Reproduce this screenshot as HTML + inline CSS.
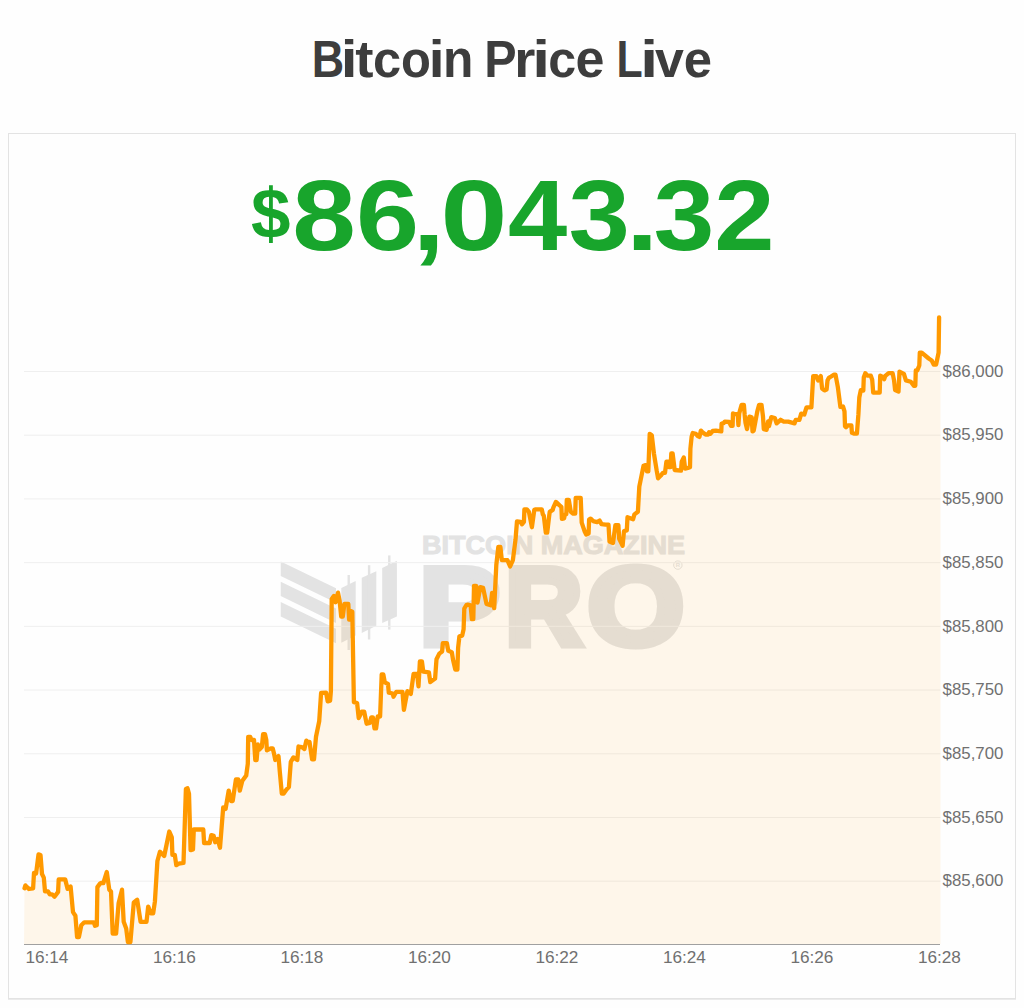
<!DOCTYPE html>
<html><head><meta charset="utf-8">
<style>
html,body{margin:0;padding:0;background:#fefefe;}
body{width:1024px;height:1008px;overflow:hidden;position:relative;font-family:"Liberation Sans",sans-serif;}
.title{position:absolute;left:0;top:0;width:1024px;text-align:center;font-weight:bold;color:#3d3d3d;font-size:52px;line-height:1;}
.card{position:absolute;left:8px;top:133px;width:1006px;height:864px;border:1px solid #e3e3e3;background:#fefefe;box-shadow:0 1px 0 #ebebeb;}
.price{position:absolute;left:0;top:0;white-space:nowrap;color:#18a52c;font-weight:bold;}
svg{position:absolute;left:0;top:0;}
</style></head>
<body>
<div class="card"></div>
<svg width="1024" height="1008" viewBox="0 0 1024 1008">
  <g id="wm" fill="#e3e3e3">
    <polygon points="280.75,561.4 336,588.2 336,602.8 280.75,576"/>
    <polygon points="280.75,581.7 336,608.5 336,623 280.75,596.1"/>
    <polygon points="280.75,602 336,628.8 336,643.2 280.75,616.4"/>
    <polygon points="341.3,588.1 355.7,581 355.7,635.6 341.3,642.7"/>
    <rect x="347.5" y="575" width="2.4" height="75"/>
    <polygon points="361.75,577.8 376.3,571.2 376.3,625.8 361.75,632.9"/>
    <rect x="367.9" y="565.2" width="2.4" height="74.3"/>
    <polygon points="382.2,567.9 396.9,560.8 396.9,616.5 382.2,623.1"/>
    <rect x="388.1" y="555.4" width="2.4" height="74.2"/>
    <text x="422" y="554" font-size="25" font-weight="bold" textLength="263" lengthAdjust="spacingAndGlyphs" stroke="#e3e3e3" stroke-width="1" style="font-family:'Liberation Sans',sans-serif">BITCOIN MAGAZINE</text>
    <text x="388.31" y="644.6" transform="scale(1.0800,1)" font-size="112" font-weight="bold" stroke="#e3e3e3" stroke-width="7" stroke-linejoin="miter" stroke-miterlimit="3" style="font-family:'Liberation Sans',sans-serif">P</text><text x="525.21" y="644.6" transform="scale(0.9613,1)" font-size="112" font-weight="bold" stroke="#e3e3e3" stroke-width="7" stroke-linejoin="miter" stroke-miterlimit="3" style="font-family:'Liberation Sans',sans-serif">R</text><text x="526.02" y="644.6" transform="scale(1.1165,1)" font-size="112" font-weight="bold" stroke="#e3e3e3" stroke-width="7" stroke-linejoin="miter" stroke-miterlimit="3" style="font-family:'Liberation Sans',sans-serif">O</text>
    <circle cx="677.85" cy="565.1" r="4.2" fill="none" stroke="#e3e3e3" stroke-width="1"/><text x="677.85" y="567.4" font-size="6" font-weight="bold" text-anchor="middle" style="font-family:'Liberation Sans',sans-serif">R</text>
  </g>
  <g stroke="#efefef" stroke-width="1"><line x1="24" y1="371.50" x2="940.5" y2="371.50"/><line x1="24" y1="435.21" x2="940.5" y2="435.21"/><line x1="24" y1="498.92" x2="940.5" y2="498.92"/><line x1="24" y1="562.63" x2="940.5" y2="562.63"/><line x1="24" y1="626.34" x2="940.5" y2="626.34"/><line x1="24" y1="690.05" x2="940.5" y2="690.05"/><line x1="24" y1="753.76" x2="940.5" y2="753.76"/><line x1="24" y1="817.47" x2="940.5" y2="817.47"/><line x1="24" y1="881.18" x2="940.5" y2="881.18"/></g>
  <path d="M24 944 L24.5 888.3 L25.4 885.4 L28.9 889 L33.1 888.3 L34 872.9 L36.1 873.5 L38.5 854.4 L40.5 855 L42 874 L43.8 877.6 L45 891.3 L48 891.3 L49.8 894.3 L52.1 894.3 L54.5 896.7 L58.1 891.9 L58.7 879.4 L65.2 879.4 L67.6 888.9 L70.6 886.5 L73 912.1 L75.4 915.7 L77.1 937.1 L78.9 937.1 L81.3 925.2 L84.3 922.3 L93.8 922.3 L95 925.8 L96.8 925.2 L97.4 887.1 L100 883.6 L100.9 883 L103.4 883 L106.8 872 L109.3 889.7 L111 891.4 L112.7 933.6 L116.1 933.6 L118.6 903.2 L122 889.7 L123.7 921.8 L126.2 928.5 L127.9 942 L130.4 942 L133.8 902.4 L137.2 899.8 L140.6 921.8 L146.5 921.8 L148.2 906.6 L150.7 913.3 L153.2 913.3 L154.9 901.5 L157.4 861 L160 851.7 L164.2 856 L169.3 831.5 L171.8 837.4 L172.4 854.9 L174.8 854.9 L176.3 865.2 L178.7 863.7 L183.5 862.9 L185.9 789 L187.5 788.3 L189 793.8 L190.6 850.2 L193 849.4 L193.8 829.5 L203.3 829.5 L204.1 843 L209.7 843 L211.3 835.1 L213.7 835.9 L215.2 842.2 L217.6 839 L220 847.8 L223.2 807.3 L225.6 808.9 L228.7 790.6 L231.1 801 L232.7 801 L235.9 779.5 L238.3 779.5 L239.8 790.6 L242.2 781.1 L246.2 775.6 L247.8 763.7 L248.2 736.8 L250.2 736.8 L251.5 740 L254 740 L255.3 760 L256.6 760 L257.9 744.5 L259.2 749.7 L261.8 747.1 L263.1 734.2 L265 734.2 L266.3 740 L266.9 750.3 L270.8 748.4 L272.7 748.4 L274 753.5 L275.3 760 L278.5 756.1 L279.8 771.6 L281.8 793.5 L283.7 793.5 L286.3 789.7 L288.9 787.1 L290.8 761.9 L293.4 757.4 L297.3 760 L298.5 746.5 L301.8 747.1 L304.4 749 L306.3 740.6 L307.6 741.9 L309.5 741.9 L312.1 759.4 L314 759.4 L316 736.8 L319.2 721.3 L321.1 692.9 L326.1 692.7 L327.7 701.4 L330.1 700.6 L330.9 691.1 L331.7 599 L334 595.9 L335.6 602.2 L338 592.7 L339.6 600.6 L341.2 616.5 L342.8 616.5 L344.4 603.8 L348.3 603.8 L349.1 619.7 L350.7 611 L352.3 611.7 L353.9 702.2 L357.1 703 L358.7 718.1 L361.8 711.7 L364.2 711.7 L366.6 723.7 L369.8 722.9 L371.3 717.3 L372.9 717.3 L374.5 728.4 L376.1 728.4 L377.7 716.5 L380.1 716.5 L381.7 674.4 L383.3 674.4 L384.8 682.4 L388 684 L388.8 692.7 L392.8 693.5 L393.5 696.7 L396.3 691.8 L402.5 691.8 L403.9 709.9 L407.4 691.1 L410.8 693.9 L413.6 673.8 L417.1 673.8 L418.5 686.3 L419.9 661.3 L421.9 661.3 L423.3 671.7 L428.9 672.4 L430.3 682.1 L435.1 678.6 L436.5 659.2 L439.3 653.6 L442.1 651.5 L442.8 643.2 L446.9 643.2 L448.3 650.8 L451.8 652.2 L453.2 660.6 L455.3 669.6 L457.4 669.6 L458.1 648.1 L459.4 636.3 L462.2 635.6 L463.6 629.3 L464.3 608.5 L466.4 605 L467.8 604.6 L470.6 605.3 L471.9 619.2 L473.3 619.2 L474 585.8 L476.1 585.8 L477.5 602.5 L480.3 587.2 L483.1 587.9 L486.5 603.9 L490.7 605.3 L492.1 592.8 L494.2 608.1 L496.3 565 L498.3 546.9 L500.4 546.9 L501.8 560.1 L507.4 560.1 L510.1 566.4 L512.9 560.1 L515.5 539.6 L517 521.3 L520.5 521.8 L521.9 524.3 L523.9 521.8 L524.4 509.4 L526.9 509.4 L528.9 511.9 L531.9 527.2 L534.3 509.9 L535.8 509.4 L541.8 509.4 L542.8 514.3 L543.8 515.8 L545.8 532.7 L547.2 532.7 L549.2 515.8 L549.7 511.9 L552.7 509.9 L553.2 507.9 L555.9 501.9 L559.6 505.4 L561.4 506.9 L561.9 518.8 L564.1 518.3 L564.8 514.7 L566.3 514.2 L566.8 499.8 L568.8 499.8 L570.8 511.7 L573.3 513.7 L575.2 513.7 L575.7 497.8 L580.7 497.8 L581.7 522.6 L584.7 531.5 L586.2 534.5 L588.6 533.5 L589.1 519.6 L590.6 518.6 L593.1 521.1 L597.1 522.1 L599.6 520.6 L601.5 524.1 L605.5 524.6 L608.5 524.6 L609.5 541.5 L613 543 L615.4 525.1 L618.4 525.1 L619.2 538.8 L622.6 545.7 L624 531.1 L626.8 530.4 L627.5 517.2 L633.1 519.3 L634.4 514.4 L637.9 511.7 L639.3 486.7 L643.5 465.8 L645.6 465.1 L646.9 471.4 L648.3 471.4 L649.7 433.9 L651.8 435.3 L653.9 453.3 L656.7 470.7 L658.1 478.3 L660.8 475.6 L662.9 472.8 L665 472.8 L666.4 461.7 L668.5 461.7 L669.2 467.2 L670.6 467.2 L671.3 453.3 L672.6 453.3 L674.7 470 L681 470.7 L681.7 461.7 L683.8 457.5 L685.1 468.6 L687.9 467.9 L690 467.2 L690.4 448.6 L691.6 436.9 L692.7 433 L695.9 433.8 L697.8 436.1 L699.4 436.9 L700.9 430.6 L702.5 432.2 L705.6 434.5 L708 434.5 L709.1 432.2 L710.3 433.8 L712.7 431 L715.8 430.6 L721.3 431.4 L721.6 423.6 L723.6 423.2 L724.8 421.6 L729.1 422 L731 425.9 L732.6 425.9 L733 413.4 L734.9 414.2 L737.7 414.2 L738.4 425.2 L739.2 413.4 L741.6 404.8 L743.9 404.8 L744.7 415 L745.5 422.8 L747 429.1 L749.4 416.6 L751.7 417.3 L752.5 431.4 L753.7 430.6 L757.2 411.9 L759.1 404.8 L761.5 404.8 L763 416.6 L763.8 429.1 L766.6 429.8 L768.1 421.3 L769 426.1 L771.3 417.1 L774.8 418 L776.6 423.4 L780.6 419.8 L783.8 421.6 L788.2 421.6 L794.5 423.4 L795.8 419.8 L799.4 419.8 L801.2 413.6 L804.3 414.5 L806.5 407.3 L811.4 407.3 L813.2 376.1 L816.3 376.1 L818.1 380.5 L820.8 376.1 L822.1 388.6 L824.4 390.4 L826.6 389.5 L827.5 380.5 L828.8 377.9 L831.1 376.5 L833.8 374.7 L835.5 374.7 L837.8 386.8 L840.4 406.9 L843 406.5 L844.5 411.4 L845 426.3 L846 427.3 L847.9 425.3 L851.4 425.3 L851.9 432.8 L854.4 433.7 L856.9 433.7 L858.4 414.4 L859.3 397.5 L860.8 390.1 L863.3 390.6 L863.8 377.2 L865.3 373.2 L867.3 375.7 L870.8 375.7 L872.2 379.7 L873.2 392.6 L879.7 392.6 L880.2 375.7 L883.2 377.2 L884.1 379.2 L885.1 376.2 L888.6 373.2 L892.6 373.2 L894.1 380.7 L895.1 390.1 L898.5 391.6 L899.5 371.7 L903.9 373.9 L905.9 380.4 L910.8 381.8 L913.8 385.8 L915.3 385.8 L915.8 370.4 L917.3 370.4 L919.3 365.5 L919.8 352.6 L921.7 352.6 L928.7 358.5 L931.7 360.5 L933.7 364.5 L936.1 364.5 L938.6 352.6 L939.1 317.4 L940.5 317.4 L940.5 944 Z" fill="rgba(255,153,0,0.08)"/>
  <line x1="24" y1="944.5" x2="940" y2="944.5" stroke="#a0a0a0" stroke-width="1.2"/>
  <path d="M24.5 888.3 L25.4 885.4 L28.9 889 L33.1 888.3 L34 872.9 L36.1 873.5 L38.5 854.4 L40.5 855 L42 874 L43.8 877.6 L45 891.3 L48 891.3 L49.8 894.3 L52.1 894.3 L54.5 896.7 L58.1 891.9 L58.7 879.4 L65.2 879.4 L67.6 888.9 L70.6 886.5 L73 912.1 L75.4 915.7 L77.1 937.1 L78.9 937.1 L81.3 925.2 L84.3 922.3 L93.8 922.3 L95 925.8 L96.8 925.2 L97.4 887.1 L100 883.6 L100.9 883 L103.4 883 L106.8 872 L109.3 889.7 L111 891.4 L112.7 933.6 L116.1 933.6 L118.6 903.2 L122 889.7 L123.7 921.8 L126.2 928.5 L127.9 942 L130.4 942 L133.8 902.4 L137.2 899.8 L140.6 921.8 L146.5 921.8 L148.2 906.6 L150.7 913.3 L153.2 913.3 L154.9 901.5 L157.4 861 L160 851.7 L164.2 856 L169.3 831.5 L171.8 837.4 L172.4 854.9 L174.8 854.9 L176.3 865.2 L178.7 863.7 L183.5 862.9 L185.9 789 L187.5 788.3 L189 793.8 L190.6 850.2 L193 849.4 L193.8 829.5 L203.3 829.5 L204.1 843 L209.7 843 L211.3 835.1 L213.7 835.9 L215.2 842.2 L217.6 839 L220 847.8 L223.2 807.3 L225.6 808.9 L228.7 790.6 L231.1 801 L232.7 801 L235.9 779.5 L238.3 779.5 L239.8 790.6 L242.2 781.1 L246.2 775.6 L247.8 763.7 L248.2 736.8 L250.2 736.8 L251.5 740 L254 740 L255.3 760 L256.6 760 L257.9 744.5 L259.2 749.7 L261.8 747.1 L263.1 734.2 L265 734.2 L266.3 740 L266.9 750.3 L270.8 748.4 L272.7 748.4 L274 753.5 L275.3 760 L278.5 756.1 L279.8 771.6 L281.8 793.5 L283.7 793.5 L286.3 789.7 L288.9 787.1 L290.8 761.9 L293.4 757.4 L297.3 760 L298.5 746.5 L301.8 747.1 L304.4 749 L306.3 740.6 L307.6 741.9 L309.5 741.9 L312.1 759.4 L314 759.4 L316 736.8 L319.2 721.3 L321.1 692.9 L326.1 692.7 L327.7 701.4 L330.1 700.6 L330.9 691.1 L331.7 599 L334 595.9 L335.6 602.2 L338 592.7 L339.6 600.6 L341.2 616.5 L342.8 616.5 L344.4 603.8 L348.3 603.8 L349.1 619.7 L350.7 611 L352.3 611.7 L353.9 702.2 L357.1 703 L358.7 718.1 L361.8 711.7 L364.2 711.7 L366.6 723.7 L369.8 722.9 L371.3 717.3 L372.9 717.3 L374.5 728.4 L376.1 728.4 L377.7 716.5 L380.1 716.5 L381.7 674.4 L383.3 674.4 L384.8 682.4 L388 684 L388.8 692.7 L392.8 693.5 L393.5 696.7 L396.3 691.8 L402.5 691.8 L403.9 709.9 L407.4 691.1 L410.8 693.9 L413.6 673.8 L417.1 673.8 L418.5 686.3 L419.9 661.3 L421.9 661.3 L423.3 671.7 L428.9 672.4 L430.3 682.1 L435.1 678.6 L436.5 659.2 L439.3 653.6 L442.1 651.5 L442.8 643.2 L446.9 643.2 L448.3 650.8 L451.8 652.2 L453.2 660.6 L455.3 669.6 L457.4 669.6 L458.1 648.1 L459.4 636.3 L462.2 635.6 L463.6 629.3 L464.3 608.5 L466.4 605 L467.8 604.6 L470.6 605.3 L471.9 619.2 L473.3 619.2 L474 585.8 L476.1 585.8 L477.5 602.5 L480.3 587.2 L483.1 587.9 L486.5 603.9 L490.7 605.3 L492.1 592.8 L494.2 608.1 L496.3 565 L498.3 546.9 L500.4 546.9 L501.8 560.1 L507.4 560.1 L510.1 566.4 L512.9 560.1 L515.5 539.6 L517 521.3 L520.5 521.8 L521.9 524.3 L523.9 521.8 L524.4 509.4 L526.9 509.4 L528.9 511.9 L531.9 527.2 L534.3 509.9 L535.8 509.4 L541.8 509.4 L542.8 514.3 L543.8 515.8 L545.8 532.7 L547.2 532.7 L549.2 515.8 L549.7 511.9 L552.7 509.9 L553.2 507.9 L555.9 501.9 L559.6 505.4 L561.4 506.9 L561.9 518.8 L564.1 518.3 L564.8 514.7 L566.3 514.2 L566.8 499.8 L568.8 499.8 L570.8 511.7 L573.3 513.7 L575.2 513.7 L575.7 497.8 L580.7 497.8 L581.7 522.6 L584.7 531.5 L586.2 534.5 L588.6 533.5 L589.1 519.6 L590.6 518.6 L593.1 521.1 L597.1 522.1 L599.6 520.6 L601.5 524.1 L605.5 524.6 L608.5 524.6 L609.5 541.5 L613 543 L615.4 525.1 L618.4 525.1 L619.2 538.8 L622.6 545.7 L624 531.1 L626.8 530.4 L627.5 517.2 L633.1 519.3 L634.4 514.4 L637.9 511.7 L639.3 486.7 L643.5 465.8 L645.6 465.1 L646.9 471.4 L648.3 471.4 L649.7 433.9 L651.8 435.3 L653.9 453.3 L656.7 470.7 L658.1 478.3 L660.8 475.6 L662.9 472.8 L665 472.8 L666.4 461.7 L668.5 461.7 L669.2 467.2 L670.6 467.2 L671.3 453.3 L672.6 453.3 L674.7 470 L681 470.7 L681.7 461.7 L683.8 457.5 L685.1 468.6 L687.9 467.9 L690 467.2 L690.4 448.6 L691.6 436.9 L692.7 433 L695.9 433.8 L697.8 436.1 L699.4 436.9 L700.9 430.6 L702.5 432.2 L705.6 434.5 L708 434.5 L709.1 432.2 L710.3 433.8 L712.7 431 L715.8 430.6 L721.3 431.4 L721.6 423.6 L723.6 423.2 L724.8 421.6 L729.1 422 L731 425.9 L732.6 425.9 L733 413.4 L734.9 414.2 L737.7 414.2 L738.4 425.2 L739.2 413.4 L741.6 404.8 L743.9 404.8 L744.7 415 L745.5 422.8 L747 429.1 L749.4 416.6 L751.7 417.3 L752.5 431.4 L753.7 430.6 L757.2 411.9 L759.1 404.8 L761.5 404.8 L763 416.6 L763.8 429.1 L766.6 429.8 L768.1 421.3 L769 426.1 L771.3 417.1 L774.8 418 L776.6 423.4 L780.6 419.8 L783.8 421.6 L788.2 421.6 L794.5 423.4 L795.8 419.8 L799.4 419.8 L801.2 413.6 L804.3 414.5 L806.5 407.3 L811.4 407.3 L813.2 376.1 L816.3 376.1 L818.1 380.5 L820.8 376.1 L822.1 388.6 L824.4 390.4 L826.6 389.5 L827.5 380.5 L828.8 377.9 L831.1 376.5 L833.8 374.7 L835.5 374.7 L837.8 386.8 L840.4 406.9 L843 406.5 L844.5 411.4 L845 426.3 L846 427.3 L847.9 425.3 L851.4 425.3 L851.9 432.8 L854.4 433.7 L856.9 433.7 L858.4 414.4 L859.3 397.5 L860.8 390.1 L863.3 390.6 L863.8 377.2 L865.3 373.2 L867.3 375.7 L870.8 375.7 L872.2 379.7 L873.2 392.6 L879.7 392.6 L880.2 375.7 L883.2 377.2 L884.1 379.2 L885.1 376.2 L888.6 373.2 L892.6 373.2 L894.1 380.7 L895.1 390.1 L898.5 391.6 L899.5 371.7 L903.9 373.9 L905.9 380.4 L910.8 381.8 L913.8 385.8 L915.3 385.8 L915.8 370.4 L917.3 370.4 L919.3 365.5 L919.8 352.6 L921.7 352.6 L928.7 358.5 L931.7 360.5 L933.7 364.5 L936.1 364.5 L938.6 352.6 L939.1 317.4" fill="none" stroke="#ff9900" stroke-width="4.3" stroke-linejoin="round" stroke-linecap="round"/>
  <g fill="#707070" font-size="16.5" style="font-family:'Liberation Sans',sans-serif"><text x="942.6" y="376.70" textLength="60.8" lengthAdjust="spacingAndGlyphs">$86,000</text><text x="942.6" y="440.41" textLength="60.8" lengthAdjust="spacingAndGlyphs">$85,950</text><text x="942.6" y="504.12" textLength="60.8" lengthAdjust="spacingAndGlyphs">$85,900</text><text x="942.6" y="567.83" textLength="60.8" lengthAdjust="spacingAndGlyphs">$85,850</text><text x="942.6" y="631.54" textLength="60.8" lengthAdjust="spacingAndGlyphs">$85,800</text><text x="942.6" y="695.25" textLength="60.8" lengthAdjust="spacingAndGlyphs">$85,750</text><text x="942.6" y="758.96" textLength="60.8" lengthAdjust="spacingAndGlyphs">$85,700</text><text x="942.6" y="822.67" textLength="60.8" lengthAdjust="spacingAndGlyphs">$85,650</text><text x="942.6" y="886.38" textLength="60.8" lengthAdjust="spacingAndGlyphs">$85,600</text></g>
  <g fill="#707070" font-size="15.8" style="font-family:'Liberation Sans',sans-serif"><text x="25.40" y="963.3" textLength="43" lengthAdjust="spacingAndGlyphs">16:14</text><text x="152.90" y="963.3" textLength="43" lengthAdjust="spacingAndGlyphs">16:16</text><text x="280.40" y="963.3" textLength="43" lengthAdjust="spacingAndGlyphs">16:18</text><text x="407.90" y="963.3" textLength="43" lengthAdjust="spacingAndGlyphs">16:20</text><text x="535.40" y="963.3" textLength="43" lengthAdjust="spacingAndGlyphs">16:22</text><text x="662.90" y="963.3" textLength="43" lengthAdjust="spacingAndGlyphs">16:24</text><text x="790.40" y="963.3" textLength="43" lengthAdjust="spacingAndGlyphs">16:26</text><text x="917.90" y="963.3" textLength="43" lengthAdjust="spacingAndGlyphs">16:28</text></g>
  <text fill="#3d3d3d" font-size="51" font-weight="bold" y="77" x="354.01" transform="scale(0.8806,1)" style="font-family:'Liberation Sans',sans-serif">B</text><text fill="#3d3d3d" font-size="51" font-weight="bold" y="77" x="287.47" transform="scale(1.1857,1)" style="font-family:'Liberation Sans',sans-serif">i</text><text fill="#3d3d3d" font-size="51" font-weight="bold" y="77" x="331.05" transform="scale(1.0733,1)" style="font-family:'Liberation Sans',sans-serif">t</text><text fill="#3d3d3d" font-size="51" font-weight="bold" y="77" x="376.02" transform="scale(0.9920,1)" style="font-family:'Liberation Sans',sans-serif">c</text><text fill="#3d3d3d" font-size="51" font-weight="bold" y="77" x="418.01" transform="scale(0.9593,1)" style="font-family:'Liberation Sans',sans-serif">o</text><text fill="#3d3d3d" font-size="51" font-weight="bold" y="77" x="384.77" transform="scale(1.1143,1)" style="font-family:'Liberation Sans',sans-serif">i</text><text fill="#3d3d3d" font-size="51" font-weight="bold" y="77" x="453.86" transform="scale(0.9760,1)" style="font-family:'Liberation Sans',sans-serif">n</text><text fill="#3d3d3d" font-size="51" font-weight="bold" y="77" x="508.7" transform="scale(0.9517,1)" style="font-family:'Liberation Sans',sans-serif">P</text><text fill="#3d3d3d" font-size="51" font-weight="bold" y="77" x="484.06" transform="scale(1.0625,1)" style="font-family:'Liberation Sans',sans-serif">r</text><text fill="#3d3d3d" font-size="51" font-weight="bold" y="77" x="423.48" transform="scale(1.2571,1)" style="font-family:'Liberation Sans',sans-serif">i</text><text fill="#3d3d3d" font-size="51" font-weight="bold" y="77" x="557.25" transform="scale(0.9840,1)" style="font-family:'Liberation Sans',sans-serif">c</text><text fill="#3d3d3d" font-size="51" font-weight="bold" y="77" x="564.18" transform="scale(1.0200,1)" style="font-family:'Liberation Sans',sans-serif">e</text><text fill="#3d3d3d" font-size="51" font-weight="bold" y="77" x="733.37" transform="scale(0.8407,1)" style="font-family:'Liberation Sans',sans-serif">L</text><text fill="#3d3d3d" font-size="51" font-weight="bold" y="77" x="509.39" transform="scale(1.2571,1)" style="font-family:'Liberation Sans',sans-serif">i</text><text fill="#3d3d3d" font-size="51" font-weight="bold" y="77" x="643.51" transform="scale(1.0179,1)" style="font-family:'Liberation Sans',sans-serif">v</text><text fill="#3d3d3d" font-size="51" font-weight="bold" y="77" x="686.45" transform="scale(0.9960,1)" style="font-family:'Liberation Sans',sans-serif">e</text>
  <text fill="#18a52c" font-size="99.5" font-weight="bold" text-anchor="middle" y="249.6" x="281.74" transform="scale(1.15,1)" style="font-family:'Liberation Sans',sans-serif">8</text><text fill="#18a52c" font-size="99.5" font-weight="bold" text-anchor="middle" y="249.6" x="340.04" transform="scale(1.14,1)" style="font-family:'Liberation Sans',sans-serif">6</text><text fill="#18a52c" font-size="99.5" font-weight="bold" text-anchor="middle" y="249.6" x="366.45" transform="scale(1.17,1)" style="font-family:'Liberation Sans',sans-serif">,</text><text fill="#18a52c" font-size="99.5" font-weight="bold" text-anchor="middle" y="249.6" x="391.65" transform="scale(1.21,1)" style="font-family:'Liberation Sans',sans-serif">0</text><text fill="#18a52c" font-size="99.5" font-weight="bold" text-anchor="middle" y="249.6" x="502.43" transform="scale(1.07,1)" style="font-family:'Liberation Sans',sans-serif">4</text><text fill="#18a52c" font-size="99.5" font-weight="bold" text-anchor="middle" y="249.6" x="539.77" transform="scale(1.11,1)" style="font-family:'Liberation Sans',sans-serif">3</text><text fill="#18a52c" font-size="99.5" font-weight="bold" text-anchor="middle" y="249.6" x="548.89" transform="scale(1.17,1)" style="font-family:'Liberation Sans',sans-serif">.</text><text fill="#18a52c" font-size="99.5" font-weight="bold" text-anchor="middle" y="249.6" x="621.73" transform="scale(1.1,1)" style="font-family:'Liberation Sans',sans-serif">3</text><text fill="#18a52c" font-size="99.5" font-weight="bold" text-anchor="middle" y="249.6" x="683.03" transform="scale(1.09,1)" style="font-family:'Liberation Sans',sans-serif">2</text><text fill="#18a52c" font-size="71" font-weight="bold" text-anchor="middle" y="237.9" x="270.75" transform="scale(1.0,1)" style="font-family:'Liberation Sans',sans-serif">$</text>
</svg>
</body></html>
